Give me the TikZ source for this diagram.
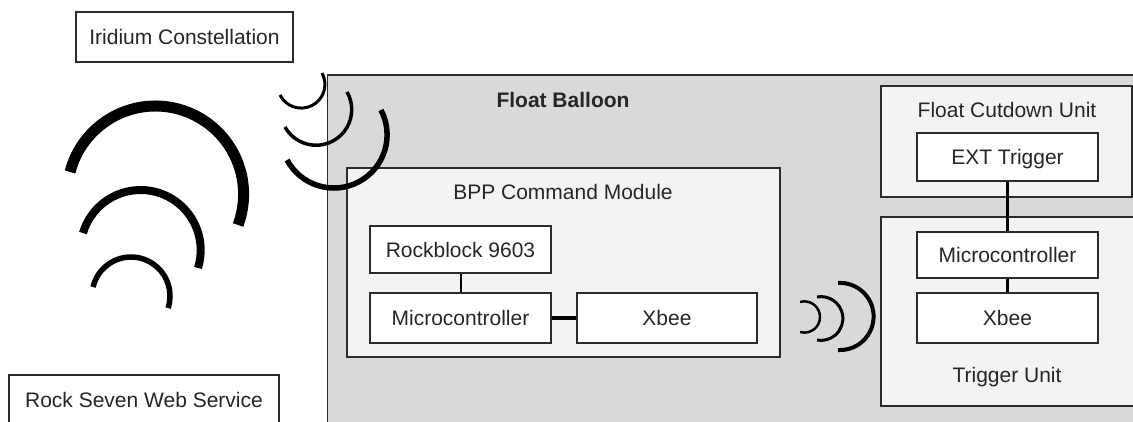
\documentclass[tikz,border=0pt]{standalone}
\usepackage{fontspec}
\setmainfont{Liberation Sans}
\definecolor{balloongray}{HTML}{D9D9D9}
\definecolor{modgray}{HTML}{F3F3F3}
\definecolor{edge}{HTML}{2B2B2B}
\definecolor{txt}{HTML}{262626}
\begin{document}
\begin{tikzpicture}[x=1pt,y=1pt,
  font=\fontsize{21}{25}\selectfont,
  leaf/.style={draw=edge, line width=1.2pt, fill=white, inner sep=0pt, text=txt,
    text height=15pt, text depth=0pt},
  container/.style={draw=edge, line width=1.2pt, inner sep=0pt},
  lbl/.style={inner sep=0pt, text=txt, text height=15pt, text depth=0pt},
  conn/.style={draw=black, line width=3pt},
  wave/.style={draw=black}]
\useasboundingbox (0,0) rectangle (1133,-421);
\clip (0,0) rectangle (1133,-421);
\fill[white] (0,0) rectangle (1133,-421);

% containers
\node[container, fill=balloongray, minimum width=817.5pt, minimum height=355pt] (bal) at (736.25,-252.5) {};
\node[container, fill=modgray, minimum width=433pt, minimum height=189pt] (bpp) at (563.5,-262.5) {};
\node[container, fill=modgray, minimum width=251pt, minimum height=111pt] (fcu) at (1006.5,-141.5) {};
\node[container, fill=modgray, minimum width=264pt, minimum height=189pt] (tu) at (1013,-311.5) {};

% container labels
\node[lbl, font=\fontsize{21}{25}\selectfont\bfseries] (ballbl) at (563,-100) {Float Balloon};
\node[lbl] (bpplbl) at (563,-192) {BPP Command Module};
\node[lbl] (fculbl) at (1007,-110) {Float Cutdown Unit};
\node[lbl] (tulbl) at (1007,-375) {Trigger Unit};

% leaf boxes
\node[leaf, minimum width=217pt, minimum height=50pt] (irid) at (184.5,-37) {Iridium Constellation};
\node[leaf, minimum width=270pt, minimum height=50pt] (rock) at (144,-400) {Rock Seven Web Service};
\node[leaf, minimum width=181pt, minimum height=47pt] (rb) at (460.5,-249.5) {Rockblock 9603};
\node[leaf, minimum width=181pt, minimum height=50pt] (mc) at (460.5,-318) {Microcontroller};
\node[leaf, minimum width=180pt, minimum height=50pt] (xb) at (667,-318) {Xbee};
\node[leaf, minimum width=181pt, minimum height=48pt] (ext) at (1007.5,-157) {EXT Trigger};
\node[leaf, minimum width=181pt, minimum height=46pt] (mc2) at (1007.5,-255) {Microcontroller};
\node[leaf, minimum width=181pt, minimum height=50pt] (xb2) at (1007.5,-318) {Xbee};

% connectors
\draw[conn, line width=2pt] (rb) -- (mc);
\draw[conn, line width=3.5pt] (mc) -- (xb);
\draw[conn] (ext) -- (mc2);
\draw[conn] (mc2) -- (xb2);

% satellite waves (left)
\draw[wave, line width=11pt] (155.4,-194.2) ++(165.4:88.2) arc[start angle=165.4, end angle=-20.4, radius=88.2];
\draw[wave, line width=8pt] (140.6,-250.1) ++(163.5:60.1) arc[start angle=163.5, end angle=-17.3, radius=60.1];
\draw[wave, line width=5.5pt] (131,-296) ++(166.7:39) arc[start angle=166.7, end angle=-18, radius=39];

% waves at balloon corner
\draw[wave, line width=3pt] (301.2,-84.4) ++(-153.4:23.7) arc[start angle=-153.4, end angle=28.7, radius=23.7];
\draw[wave, line width=3.5pt] (316.1,-109.6) ++(-150.8:35.6) arc[start angle=-150.8, end angle=29.7, radius=35.6];
\draw[wave, line width=5.5pt] (333.9,-134.8) ++(-151.7:53.2) arc[start angle=-151.7, end angle=27.8, radius=53.2];

% xbee waves
\draw[wave, line width=2.5pt] (804.4,-317) ++(106:15.6) arc[start angle=106, end angle=-106, radius=15.6];
\draw[wave, line width=3pt] (821,-318.5) ++(100.5:21.9) arc[start angle=100.5, end angle=-100.5, radius=21.9];
\draw[wave, line width=4pt] (840,-316.5) ++(93.4:33.6) arc[start angle=93.4, end angle=-93.4, radius=33.6];
\end{tikzpicture}
\end{document}
